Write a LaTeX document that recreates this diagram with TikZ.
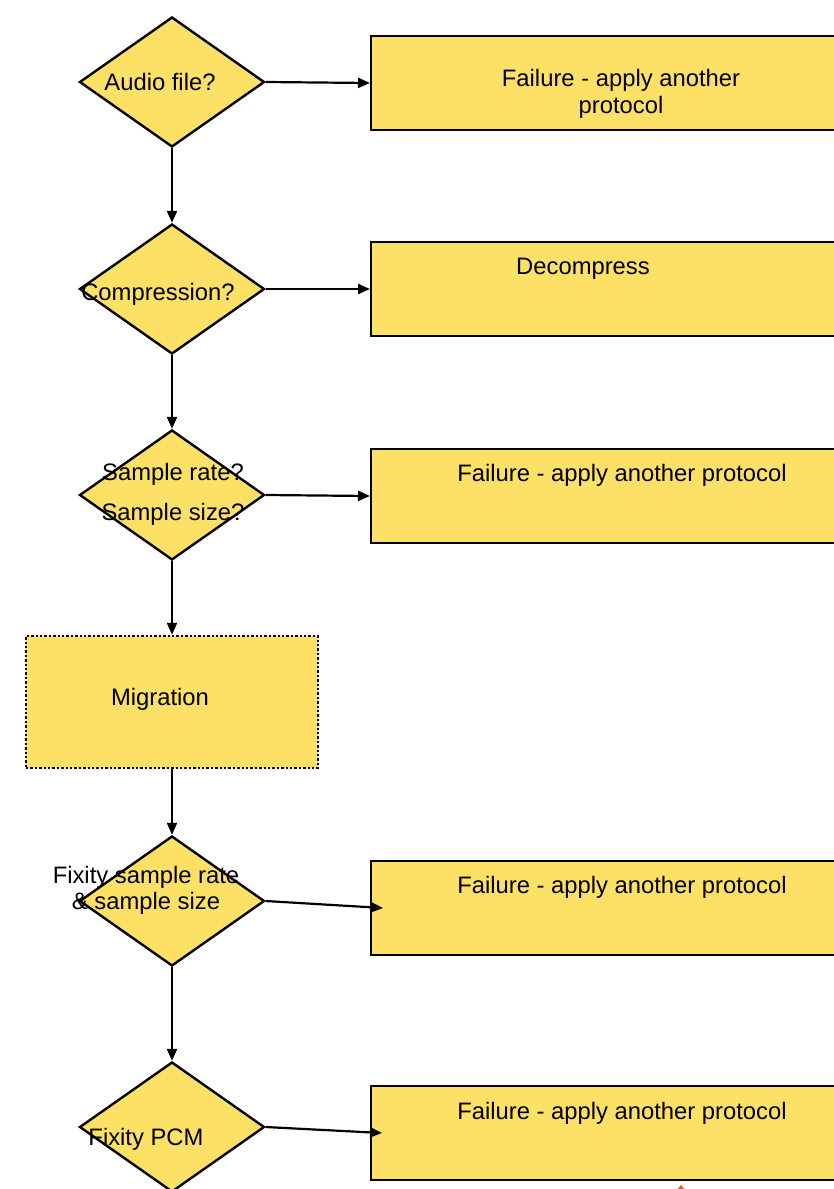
\documentclass[tikz,border=0pt]{standalone}
\usepackage{fontspec}
\setmainfont{Liberation Sans}
\usetikzlibrary{arrows.meta,shapes.geometric}
\definecolor{Gold}{RGB}{252,225,102}
\definecolor{Mark}{RGB}{225,95,40}
\tikzset{
  decision/.style={diamond,draw=black,fill=Gold,line width=2.4pt,minimum width=185pt,minimum height=130pt,inner sep=0pt},
  outcome/.style={rectangle,draw=black,fill=Gold,line width=2.4pt,minimum width=520pt,minimum height=94pt,inner sep=0pt,anchor=west},
  process/.style={rectangle,draw=black,fill=Gold,line width=2.4pt,dotted,minimum width=292pt,minimum height=132pt,inner sep=0pt},
  flow/.style={-{Triangle[length=12pt,width=10pt]},line width=2.2pt},
  steptext/.style={font=\fontsize{23.8}{27}\selectfont,align=center,inner sep=0pt}
}
\begin{document}
\begin{tikzpicture}[x=1pt,y=-1pt]
\useasboundingbox (0,0) rectangle (834,1189);
\clip (0,0) rectangle (834,1189);

\node[decision] (audio) at (172,82) {};
\node[decision] (comp) at (172,289) {};
\node[decision] (rate) at (172,495) {};
\node[process] (migr) at (172,702) {};
\node[decision] (fixrate) at (172,901) {};
\node[decision] (fixpcm) at (172,1127) {};

\node[outcome] (fail1) at (370,83) {};
\node[outcome] (decomp) at (370,289) {};
\node[outcome] (fail3) at (370,496) {};
\node[outcome] (fail4) at (370,908) {};
\node[outcome] (fail5) at (370,1133) {};

\draw[flow] (audio.south) -- (comp.north);
\draw[flow] (comp.south) -- (rate.north);
\draw[flow] (rate.south) -- (migr.north);
\draw[flow] (migr.south) -- (fixrate.north);
\draw[flow] (fixrate.south) -- (fixpcm.north);

\draw[flow] (audio.east) -- (fail1.west);
\draw[flow] (comp.east) -- (decomp.west);
\draw[flow] (rate.east) -- (fail3.west);
\draw[flow] (fixrate.east) -- ([xshift=13pt]fail4.west);
\draw[flow] (fixpcm.east) -- ([xshift=12pt]fail5.west);

\node[steptext] (audiotxt) at (160,82) {Audio file?};
\node[steptext] (comptxt) at (158,294) {Compression?};
\node[steptext] (ratetxt) at (173,494) {Sample rate?\\[13pt]Sample size?};
\node[steptext] (migrtxt) at (160,699) {Migration};
\node[steptext] (fixratetxt) at (146,890) {Fixity sample rate\\[-1pt]\& sample size};
\node[steptext] (fixpcmtxt) at (146,1139) {Fixity PCM};

\node[steptext] (fail1txt) at (621,94) {Failure - apply another\\protocol};
\node[steptext] (decomptxt) at (583,269) {Decompress};
\node[steptext] (fail3txt) at (622,475) {Failure - apply another protocol};
\node[steptext] (fail4txt) at (622,887) {Failure - apply another protocol};
\node[steptext] (fail5txt) at (622,1113) {Failure - apply another protocol};

\fill[Mark] (677,1190) -- (681,1185) -- (685,1190) -- cycle;
\end{tikzpicture}
\end{document}
